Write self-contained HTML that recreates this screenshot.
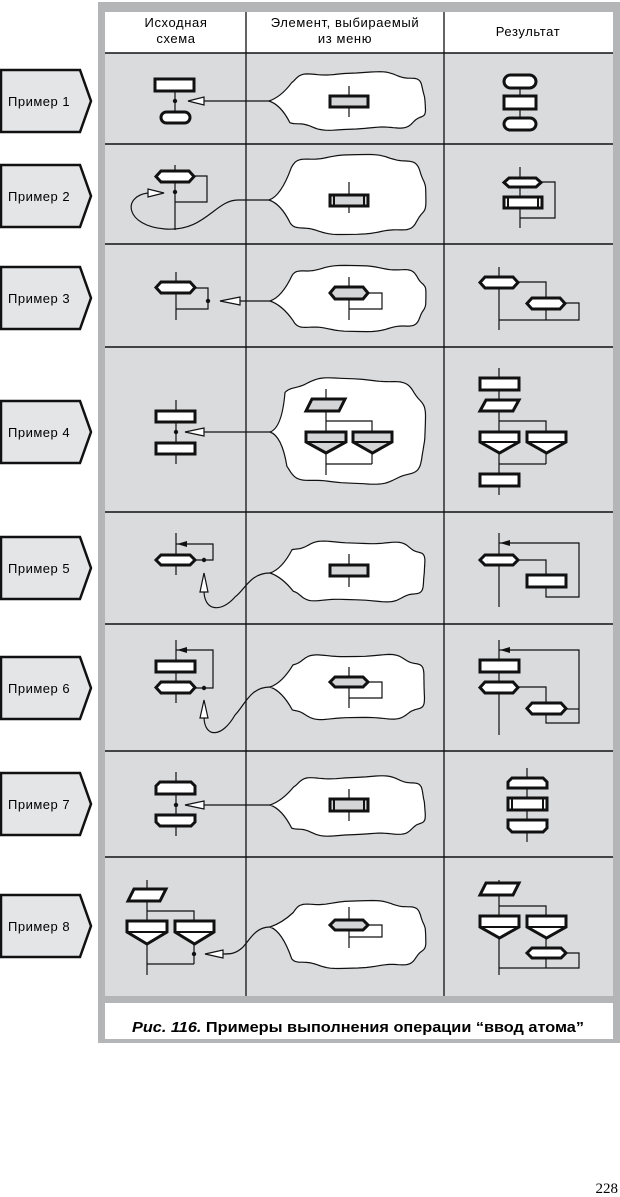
<!DOCTYPE html>
<html><head><meta charset="utf-8"><style>
html,body{margin:0;padding:0;background:#fff;width:620px;height:1197px;overflow:hidden}
svg{display:block}
text{font-family:"Liberation Sans",sans-serif}
</style></head><body>
<div id="c"></div>
<script>
var s='';
function L(a,b,c,d,w){s+='<line x1="'+a+'" y1="'+b+'" x2="'+c+'" y2="'+d+'" stroke="#111" stroke-width="'+(w||1.2)+'"/>';}
function P(pts,f){s+='<polygon points="'+pts.map(function(p){return p[0]+','+p[1]}).join(' ')+'" fill="'+(f||'#fff')+'" stroke="#111" stroke-width="3" stroke-linejoin="miter"/>';}
function R(x1,y1,x2,y2,f){P([[x1,y1],[x2,y1],[x2,y2],[x1,y2]],f);}
function ST(x1,y1,x2,y2,f){var r=(y2-y1)/2;s+='<rect x="'+x1+'" y="'+y1+'" width="'+(x2-x1)+'" height="'+(y2-y1)+'" rx="'+r+'" fill="'+(f||'#fff')+'" stroke="#111" stroke-width="3"/>';}
function H(x1,y1,x2,y2,f){var m=(y1+y2)/2;P([[x1,m],[x1+5,y1],[x2-5,y1],[x2,m],[x2-5,y2],[x1+5,y2]],f);}
function PA(x1,y1,x2,y2,f){P([[x1,y2],[x1+6,y1],[x2,y1],[x2-6,y2]],f);}
function T(x1,y1,x2,ym,y2,f){P([[x1,y1],[x2,y1],[x2,ym],[(x1+x2)/2,y2],[x1,ym]],f);L(x1,ym,x2,ym,2);}
function B(x1,y1,x2,y2,f){R(x1,y1,x2,y2,f);L(x1+4,y1,x1+4,y2,2);L(x2-4,y1,x2-4,y2,2);}
function CT(x1,y1,x2,y2){P([[x1,y2],[x1,y1+4],[x1+4,y1],[x2-4,y1],[x2,y1+4],[x2,y2]]);}
function CB(x1,y1,x2,y2){P([[x1,y1],[x2,y1],[x2,y2-4],[x2-4,y2],[x1+4,y2],[x1,y2-4]]);}
function D(x,y){s+='<circle cx="'+x+'" cy="'+y+'" r="2.2" fill="#111"/>';}
function AL(tx,ty,bx){s+='<polygon points="'+tx+','+ty+' '+bx+','+(ty-4)+' '+bx+','+(ty+4)+'" fill="#fff" stroke="#111" stroke-width="1.2"/>';}
function AU(tx,ty,by){s+='<polygon points="'+tx+','+ty+' '+(tx-4)+','+by+' '+(tx+4)+','+by+'" fill="#fff" stroke="#111" stroke-width="1.2"/>';}
function FA(tx,ty){s+='<polygon points="'+tx+','+ty+' '+(tx+10)+','+(ty-3)+' '+(tx+10)+','+(ty+3)+'" fill="#111"/>';}
function PATH(d){s+='<path d="'+d+'" fill="none" stroke="#111" stroke-width="1.2"/>';}
function CL(x1,y1,x2,y2,tx,ty,seed){
 var cx=(x1+x2)/2,cy=(y1+y2)/2,a=(x2-x1)/2,b=(y2-y1)/2,pts=[];
 for(var i=0;i<=120;i++){var t=Math.PI+0.6+i/120*(2*Math.PI-1.2);
  var c=Math.cos(t),sn=Math.sin(t);
  var x=cx+a*Math.sign(c)*Math.pow(Math.abs(c),0.6),y=cy+b*Math.sign(sn)*Math.pow(Math.abs(sn),0.6);
  var w=1.6*Math.sin(t*8+seed);x+=w*Math.sign(c)*0.6;y+=w*Math.sign(sn);pts.push([x,y]);}
 var d='M'+tx+','+ty+' Q'+(tx+12)+','+(ty-4)+' '+pts[0][0].toFixed(1)+','+pts[0][1].toFixed(1);
 for(var j=1;j<pts.length;j++)d+=' L'+pts[j][0].toFixed(1)+','+pts[j][1].toFixed(1);
 d+=' Q'+(tx+12)+','+(ty+4)+' '+tx+','+ty+' Z';
 s+='<path d="'+d+'" fill="#fff" stroke="#111" stroke-width="1.2"/>';}
var G='#d4d5d7';
s+='<rect x="98" y="2" width="522" height="1041" fill="#b3b5b7"/>';
s+='<rect x="105" y="12" width="508" height="984" fill="#d9dbdd"/>';
s+='<rect x="105" y="12" width="508" height="41" fill="#fff"/>';
s+='<rect x="105" y="1003" width="508" height="36" fill="#fff"/>';
[53,144,244,347,512,624,751,857].forEach(function(y){L(105,y,613,y,1.6)});
L(246,12,246,996,1.3);L(444,12,444,996,1.3);
s+='<text x="176" y="27" font-size="13" text-anchor="middle" letter-spacing="0.6">Исходная</text>';
s+='<text x="176" y="43" font-size="13" text-anchor="middle" letter-spacing="0.6">схема</text>';
s+='<text x="345" y="27" font-size="13" text-anchor="middle" letter-spacing="0.6">Элемент, выбираемый</text>';
s+='<text x="345" y="43" font-size="13" text-anchor="middle" letter-spacing="0.6">из меню</text>';
s+='<text x="528" y="36" font-size="13" text-anchor="middle" letter-spacing="0.6">Результат</text>';
[101,196,298,432,568,688,804,926].forEach(function(c,i){
 s+='<polygon points="1,'+(c-31)+' 80,'+(c-31)+' 91,'+c+' 80,'+(c+31)+' 1,'+(c+31)+'" fill="#e4e5e7" stroke="#111" stroke-width="2.5"/>';
 s+='<text x="8" y="'+(c+5)+'" font-size="13" letter-spacing="0.5">Пример '+(i+1)+'</text>';});
CL(283,73,425,129,269,101,0);CL(283,156,425,233,269,200,1);CL(285,267,425,330,270,301,2);
CL(278,379,425,483,270,432,3);CL(285,542,425,601,270,573,4);CL(285,655,425,719,270,687,5);
CL(285,777,425,835,270,805,6);CL(285,902,425,967,270,927,7);
L(175,85,175,118);R(155,79,194,91);ST(161,112,190,123);D(175,101);AL(188,101,204);L(204,101,270,101);
L(349,86,349,117);R(330,96,368,107,G);
L(520,80,520,125);ST(504,75,536,88);R(504,96,536,109);ST(504,118,536,130);
L(175,165,175,230);PATH('M194,176 L207,176 L207,202 L175,202');H(156,171,194,182);D(175,192);
PATH('M269,200 L238,200 C215,200 205,232 165,229 C125,226 122,196 148,193');
s+='<polygon points="164,193 148,189 148,197" fill="#fff" stroke="#111" stroke-width="1.2"/>';
L(349,182,349,213);B(330,195,368,206,G);
L(520,167,520,228);PATH('M541,182 L555,182 L555,218 L520,218');H(504,178,541,187);B(504,197,542,208);
L(176,272,176,320);PATH('M195,288 L208,288 L208,309 L176,309');H(156,282,195,293);D(208,301);AL(220,301,240);L(240,301,270,301);
L(349,277,349,320);PATH('M368,293 L382,293 L382,309 L349,309');H(330,287,368,299,G);
L(499,267,499,330);PATH('M518,282 L546,282 L546,298');PATH('M565,303 L579,303 L579,320 L499,320');L(546,309,546,320);H(480,277,518,288);H(527,298,565,309);
L(176,400,176,464);R(156,411,195,422);R(156,443,195,454);D(176,432);AL(185,432,204);L(204,432,270,432);
L(326,389,326,475);PATH('M326,421 L372,421 L372,432');L(326,464,372,464);L(372,453,372,464);
PA(306,399,345,411,G);T(306,432,346,442,453,G);T(353,432,392,442,453,G);
L(499,368,499,495);PATH('M499,421 L546,421 L546,432');L(499,464,546,464);L(546,453,546,464);
R(480,378,519,390);PA(480,400,519,411);T(480,432,519,442,453);T(527,432,566,442,453);R(480,474,519,486);
L(176,533,176,575);PATH('M176,544 L213,544 L213,560 L195,560');FA(177,544);H(156,555,195,565);D(204,560);
AU(204,573,592);PATH('M270,573 C250,573 245,590 235,597 C222,612 205,612 204,592');
L(349,554,349,587);R(330,565,368,576,G);
L(499,533,499,607);PATH('M499,543 L579,543 L579,597 L546,597 L546,587');FA(500,543);PATH('M518,560 L546,560 L546,575');H(480,555,518,565);R(527,575,566,587);
L(176,640,176,703);PATH('M176,650 L213,650 L213,688 L195,688');FA(177,650);R(156,661,195,672);H(156,682,195,693);D(204,688);
AU(204,700,718);PATH('M270,687 C250,687 245,705 235,715 C222,738 205,738 204,718');
L(349,667,349,708);PATH('M368,682 L382,682 L382,698 L349,698');H(330,677,368,687,G);
L(499,640,499,735);PATH('M499,650 L579,650 L579,723 L546,723 L546,714');FA(500,650);PATH('M518,687 L546,687 L546,703');L(565,709,579,709);
R(480,660,519,672);H(480,682,518,693);H(527,703,566,714);
L(176,772,176,836);CT(156,782,195,794);CB(156,815,195,826);D(176,805);AL(185,805,204);L(204,805,270,805);
L(349,789,349,821);B(330,799,368,811,G);
L(527,768,527,842);CT(508,778,547,788);B(508,798,547,810);CB(508,820,547,832);
L(147,880,147,975);PATH('M147,911 L194,911 L194,921');L(147,964,194,964);L(194,943,194,964);
PA(128,889,166,901);T(127,921,167,932,944);T(175,921,214,932,944);D(194,954);
s+='<polygon points="205,954 223,950 223,958" fill="#fff" stroke="#111" stroke-width="1.2"/>';
PATH('M270,927 C255,927 250,940 242,948 C235,954 230,954 223,954');
L(349,907,349,948);PATH('M368,925 L382,925 L382,937 L349,937');H(330,920,368,930,G);
L(499,880,499,975);PATH('M499,906 L546,906 L546,916');L(546,938,546,948);PATH('M566,953 L579,953 L579,968 L499,968');L(546,958,546,968);
PA(480,883,519,895);T(480,916,519,927,938);T(527,916,566,927,938);H(527,948,566,958);
s+='<text x="132" y="1032" font-size="14.5" font-weight="bold" textLength="452" lengthAdjust="spacingAndGlyphs"><tspan font-style="italic">Рис. 116.</tspan> Примеры выполнения операции “ввод атома”</text>';
s+='<text x="618" y="1193" font-size="15" text-anchor="end" style="font-family:\'Liberation Serif\',serif">228</text>';
document.getElementById('c').innerHTML='<svg xmlns="http://www.w3.org/2000/svg" width="620" height="1197" viewBox="0 0 620 1197">'+s+'</svg>';
</script>
</body></html>
